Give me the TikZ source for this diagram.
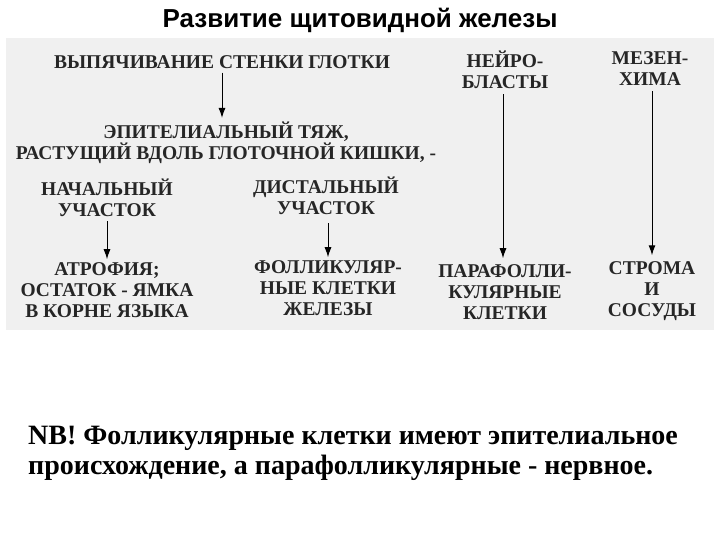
\documentclass[tikz,border=0pt]{standalone}
\usepackage{fontspec}
\usetikzlibrary{arrows.meta}
\setmainfont{Liberation Serif}
\newfontfamily\titlefont{Liberation Sans}
\begin{document}
\begin{tikzpicture}[x=1pt,y=-1pt,
  lbl/.style={font=\bfseries\fontsize{19.5}{21}\selectfont, align=center, inner sep=0pt, text=black!85},
  arr/.style={-{Latex[length=10pt,width=7pt]}, line width=1pt}]
\useasboundingbox (0,0) rectangle (720,540);
\fill[white] (0,0) rectangle (720,540);
\fill[black!6] (6,38) rectangle (714,330);
\node[font=\titlefont\bfseries\fontsize{26}{28}\selectfont] (title) at (360,20) {Развитие щитовидной железы};
\node[lbl] (a) at (222,62) {ВЫПЯЧИВАНИЕ СТЕНКИ ГЛОТКИ};
\node[lbl] (b) at (226,143) {ЭПИТЕЛИАЛЬНЫЙ ТЯЖ,\\РАСТУЩИЙ ВДОЛЬ ГЛОТОЧНОЙ КИШКИ, -};
\node[lbl] (c) at (107,198) {НАЧАЛЬНЫЙ\\УЧАСТОК};
\node[lbl] (d) at (326,196) {ДИСТАЛЬНЫЙ\\УЧАСТОК};
\node[lbl] (e) at (107,290) {АТРОФИЯ;\\ОСТАТОК - ЯМКА\\В КОРНЕ ЯЗЫКА};
\node[lbl] (f) at (328,288) {ФОЛЛИКУЛЯР-\\НЫЕ КЛЕТКИ\\ЖЕЛЕЗЫ};
\node[lbl] (g) at (505,70) {НЕЙРО-\\БЛАСТЫ};
\node[lbl] (h) at (505,292) {ПАРАФОЛЛИ-\\КУЛЯРНЫЕ\\КЛЕТКИ};
\node[lbl] (i) at (650,69) {МЕЗЕН-\\ХИМА};
\node[lbl] (j) at (652,291) {СТРОМА\\И\\СОСУДЫ};
\draw[arr, shorten <=4pt, shorten >=4pt] (a.south) -- (a.south |- b.north);
\draw[arr, shorten <=4pt, shorten >=3pt] (c.south) -- (c.south |- e.north);
\draw[arr, shorten <=8pt, shorten >=3pt] (d.south -| f.north) -- (f.north);
\draw[arr, shorten <=5pt, shorten >=6pt] (g.south -| 503,0) -- (h.north -| 503,0);
\draw[arr, shorten <=5pt, shorten >=6pt] (i.south -| 652,0) -- (j.north -| 652,0);
\node[font=\bfseries\fontsize{28}{30}\selectfont, align=left, anchor=west, inner sep=0pt] (nb) at (28,453)
 {NB! Фолликулярные клетки имеют эпителиальное\\происхождение, а парафолликулярные - нервное.};
\end{tikzpicture}
\end{document}
